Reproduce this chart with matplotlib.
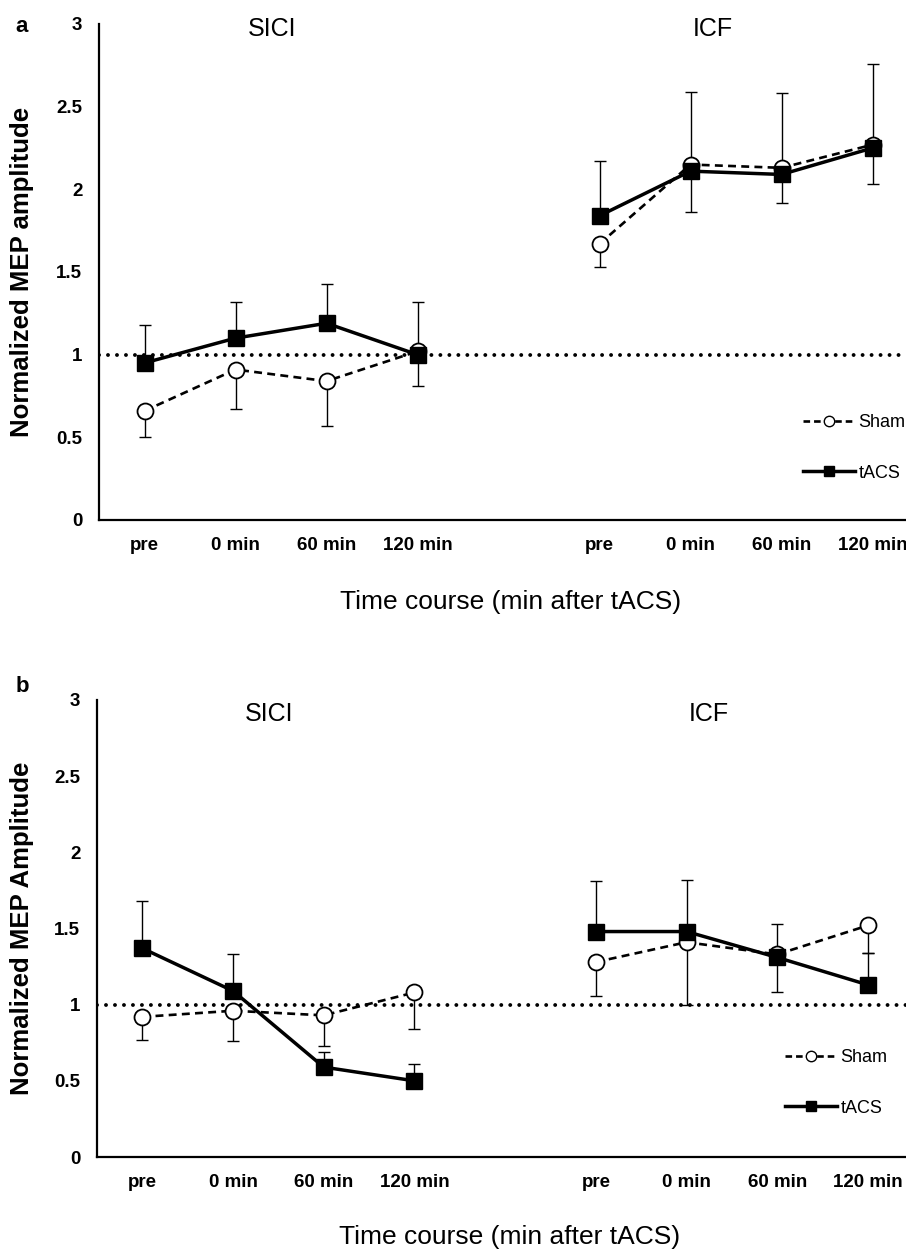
import numpy as np
import matplotlib.pyplot as plt
from matplotlib.lines import Line2D

plt.rcParams['font.family'] = ['Liberation Sans', 'DejaVu Sans']

time_labels = ['pre', '0 min', '60 min', '120 min', 'pre', '0 min', '60 min', '120 min']
x_pos = [0, 1, 2, 3, 5, 6, 7, 8]

# panel a (SICI then ICF)
a_tacs = [0.95, 1.10, 1.19, 1.00, 1.84, 2.11, 2.09, 2.25]
a_tacs_err = [0.23, 0.22, 0.24, 0.32, 0.33, 0.48, 0.49, 0.51]
a_sham = [0.66, 0.91, 0.84, 1.02, 1.67, 2.15, 2.13, 2.27]
a_sham_err = [0.16, 0.24, 0.27, 0.21, 0.14, 0.29, 0.21, 0.24]

# panel b
b_tacs = [1.37, 1.09, 0.59, 0.50, 1.48, 1.48, 1.31, 1.13]
b_tacs_err = [0.31, 0.24, 0.10, 0.11, 0.33, 0.34, 0.22, 0.21]
b_sham = [0.92, 0.96, 0.93, 1.08, 1.28, 1.41, 1.33, 1.52]
b_sham_err = [0.15, 0.20, 0.20, 0.24, 0.22, 0.41, 0.25, 0.18]

yticks = [0, 0.5, 1, 1.5, 2, 2.5, 3]
ytick_labels = ['0', '0.5', '1', '1.5', '2', '2.5', '3']


def draw_panel(ax, tacs, tacs_err, sham, sham_err, ylab, title_y, leg_xy, xmax):
    x = np.array(x_pos)
    tacs = np.array(tacs)
    sham = np.array(sham)
    zeros = np.zeros(len(x))
    # error bars: tACS upward, Sham downward
    ax.errorbar(x, sham, yerr=[sham_err, zeros], fmt='none', ecolor='black',
                elinewidth=1.0, capsize=4, capthick=1.0, zorder=2)
    ax.errorbar(x, tacs, yerr=[zeros, tacs_err], fmt='none', ecolor='black',
                elinewidth=1.0, capsize=4, capthick=1.0, zorder=2)
    for grp in (slice(0, 4), slice(4, 8)):
        ax.plot(x[grp], sham[grp], color='black', lw=1.9, linestyle=(0, (3, 2)),
                marker='o', markersize=11.5, markerfacecolor='white',
                markeredgecolor='black', markeredgewidth=1.3, zorder=3)
        ax.plot(x[grp], tacs[grp], color='black', lw=2.5, marker='s',
                markersize=11.5, markerfacecolor='black', markeredgecolor='black', zorder=4)

    ax.axhline(1, color='black', lw=2.8, linestyle=(0, (0.01, 2.3)),
               dash_capstyle='round', zorder=1)

    ax.set_xlim(-0.5, xmax)
    ax.set_ylim(0, 3)
    ax.set_xticks(x_pos)
    ax.set_xticklabels(time_labels, fontsize=13.5, fontweight='bold')
    ax.set_yticks(yticks)
    ax.set_yticklabels(ytick_labels, fontsize=13.5, fontweight='bold')
    ax.tick_params(length=0)
    ax.tick_params(axis='x', pad=12)
    ax.tick_params(axis='y', pad=12)
    for s in ['top', 'right']:
        ax.spines[s].set_visible(False)
    for s in ['left', 'bottom']:
        ax.spines[s].set_linewidth(1.6)

    ax.text(1.4, title_y, 'SICI', ha='center', va='center', fontsize=18)
    ax.text(6.25, title_y, 'ICF', ha='center', va='center', fontsize=18)

    ax.set_ylabel(ylab, fontsize=18.5, fontweight='bold', va='center')
    ax.set_xlabel('Time course (min after tACS)', fontsize=19, va='center')

    sham_h = Line2D([], [], color='black', lw=1.9, linestyle=(0, (2.5, 1.5)), marker='o',
                    markersize=7.5, markerfacecolor='white', markeredgecolor='black')
    tacs_h = Line2D([], [], color='black', lw=2.5, marker='s', markersize=7.5,
                    markerfacecolor='black')
    ax.legend([sham_h, tacs_h], ['Sham', 'tACS'], loc='center left',
              bbox_to_anchor=leg_xy, frameon=False, fontsize=13,
              handlelength=2.9, handletextpad=0.2, labelspacing=1.85,
              borderpad=0, borderaxespad=0)


fig = plt.figure(figsize=(9.06, 12.5), dpi=100)
W, H = 906, 1250

ax_a = fig.add_axes([99 / W, 1 - 520 / H, (W - 99) / W, (520 - 24) / H])
draw_panel(ax_a, a_tacs, a_tacs_err, a_sham, a_sham_err,
           'Normalized MEP amplitude', 2.97, (0.872, 0.145), -0.5 + (W - 99) / 91)
ax_a.yaxis.set_label_coords((22 - 99) / 807, 0.5)
ax_a.xaxis.set_label_coords(0.51, (520 - 602) / 496)

ax_b = fig.add_axes([97 / W, 1 - 1157 / H, (W - 97) / W, (1157 - 700) / H])
draw_panel(ax_b, b_tacs, b_tacs_err, b_sham, b_sham_err,
           'Normalized MEP Amplitude', 2.91, (0.85, 0.162), -0.5 + (W - 97) / 90.7)
ax_b.yaxis.set_label_coords((22 - 97) / 809, 0.5)
ax_b.xaxis.set_label_coords(0.51, (1157 - 1237) / 457)

fig.text(22 / W, 1 - 27 / H, 'a', fontsize=16, fontweight='bold', ha='center', va='center')
fig.text(22 / W, 1 - 687 / H, 'b', fontsize=16, fontweight='bold', ha='center', va='center')

fig.savefig('out.png', dpi=100)
